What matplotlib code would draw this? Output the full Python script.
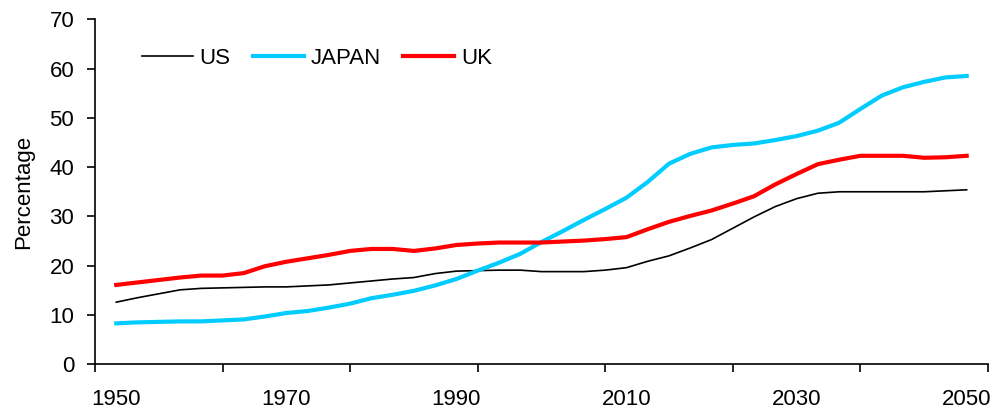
import matplotlib
matplotlib.use("Agg")
import matplotlib.pyplot as plt
import numpy as np

plt.rcParams['font.family'] = ['Liberation Sans', 'DejaVu Sans']

years = [1950 + 2.5 * i for i in range(41)]

us = [12.6, 13.5, 14.3, 15.1, 15.4, 15.5, 15.6, 15.7, 15.7, 15.9,
      16.1, 16.5, 16.9, 17.3, 17.6, 18.4, 18.9, 19.0, 19.1, 19.1,
      18.8, 18.8, 18.8, 19.1, 19.6, 20.9, 22.0, 23.6, 25.3, 27.6,
      29.9, 32.0, 33.6, 34.7, 35.0, 35.0, 35.0, 35.0, 35.0, 35.2, 35.4]

japan = [8.3, 8.5, 8.6, 8.7, 8.7, 8.9, 9.1, 9.7, 10.4, 10.8,
         11.5, 12.3, 13.4, 14.1, 14.9, 16.0, 17.3, 19.0, 20.6, 22.4,
         24.8, 27.0, 29.3, 31.5, 33.8, 37.0, 40.7, 42.7, 44.0, 44.5,
         44.8, 45.5, 46.3, 47.4, 49.0, 51.8, 54.5, 56.2, 57.3, 58.2, 58.5]

uk = [16.1, 16.6, 17.1, 17.6, 18.0, 18.0, 18.5, 19.9, 20.8, 21.5,
      22.2, 23.0, 23.4, 23.4, 23.0, 23.5, 24.2, 24.5, 24.7, 24.7,
      24.7, 24.9, 25.1, 25.4, 25.8, 27.4, 28.9, 30.1, 31.2, 32.6,
      34.1, 36.5, 38.6, 40.6, 41.5, 42.3, 42.3, 42.3, 41.9, 42.0, 42.3]

label_years = [1950, 1970, 1990, 2010, 2030, 2050]
tick_years = [1947.5 + 15 * i for i in range(8)]
y_ticks = [0, 10, 20, 30, 40, 50, 60, 70]

fig = plt.figure(figsize=(10.05, 4.13), dpi=100)
ax = fig.add_axes([0.0945, 0.118, 0.8885, 0.8353])

ax.plot(years, us, color='black', lw=1.2, label='US')
ax.plot(years, japan, color='#00CCFF', lw=3.0, label='JAPAN')
ax.plot(years, uk, color='#FF0000', lw=3.0, label='UK')

ax.set_xlim(1947.5, 2052.5)
ax.set_ylim(0, 70)

ax.set_xticks(tick_years)
ax.set_xticklabels([])
ax.set_xticks(label_years, minor=True)
ax.set_xticklabels([str(y) for y in label_years], minor=True)
ax.tick_params(axis='x', which='major', direction='out', length=6, width=1.2)
ax.tick_params(axis='x', which='minor', length=0, pad=18, labelsize=16)

ax.set_yticks(y_ticks)
ax.tick_params(axis='y', direction='out', length=6, width=1.2, pad=9, labelsize=16)

for s in ['top', 'right']:
    ax.spines[s].set_visible(False)
for s in ['left', 'bottom']:
    ax.spines[s].set_linewidth(1.2)

ax.set_ylabel('Percentage', fontsize=16, labelpad=11)

ax.legend(loc='upper left', bbox_to_anchor=(0.03, 0.975), ncol=3, frameon=False,
          fontsize=16, handlelength=2.3, handletextpad=0.3, columnspacing=1.0)

fig.savefig('out.png', dpi=100)
